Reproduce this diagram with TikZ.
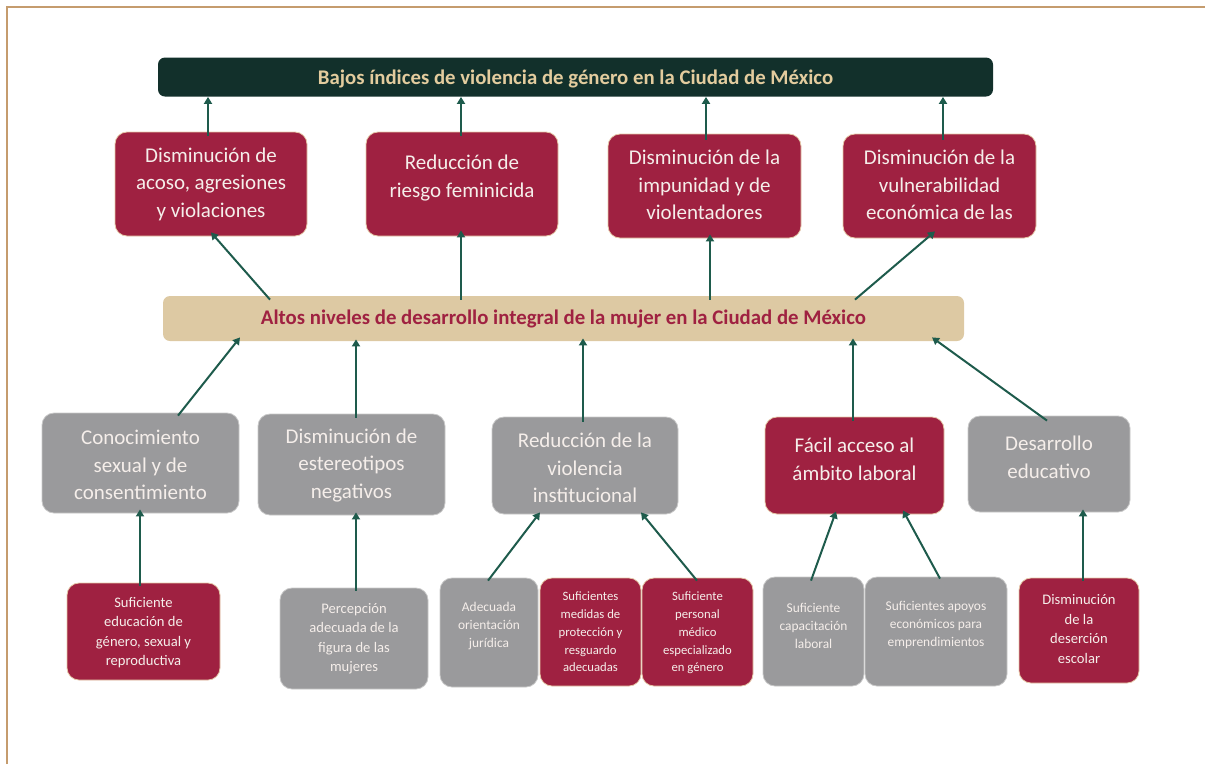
\documentclass[tikz,border=0pt]{standalone}
\usepackage{fontspec}
\setmainfont{Carlito}
\usetikzlibrary{arrows.meta,calc}
\definecolor{crim}{HTML}{9F2141}
\definecolor{grayb}{HTML}{9A9A9C}
\definecolor{dgreen}{HTML}{12302B}
\definecolor{tanbar}{HTML}{DDC9A3}
\definecolor{tantext}{HTML}{E3CC9E}
\definecolor{arr}{HTML}{1E5B4C}
\definecolor{frame}{HTML}{C59C6E}
\definecolor{crimedge}{HTML}{E5C9A8}
\definecolor{grayedge}{HTML}{C8C8C8}
\definecolor{offwhite}{HTML}{F5EEEA}
\tikzset{
  boxbase/.style={rounded corners=12pt, inner sep=0pt, line width=0.8pt},
  redbox/.style={boxbase, fill=crim, draw=crimedge},
  graybox/.style={boxbase, fill=grayb, draw=grayedge},
  txt/.style={inner sep=0pt, align=center, text=offwhite},
  bigtxt/.style={txt, font=\fontsize{21}{27.5}\selectfont},
  smalltxt/.style={txt, font=\fontsize{13.4}{18}\selectfont},
  tinytxt/.style={txt, font=\fontsize{12.7}{17.8}\selectfont},
  midtxt/.style={txt, font=\fontsize{14.6}{19.5}\selectfont},
  uparr/.style={draw=arr, line width=2pt, -{Triangle[width=8pt,length=7pt]}},
}
\begin{document}
\begin{tikzpicture}[x=1pt,y=-1pt]
\useasboundingbox (0,0) rectangle (1205,764);
% frame
\draw[frame, line width=1.5pt] (7,764) -- (7,7) -- (1205,7);
% top bar
\node[boxbase, fill=dgreen, draw=none, rounded corners=7pt, minimum width=835pt, minimum height=39pt] (top) at (575.5,77) {};
\node[txt, text=tantext, font=\fontsize{20.8}{22}\selectfont\bfseries] (topt) at ([yshift=-2pt]top.center) {Bajos índices de violencia de género en la Ciudad de México};
% row 2
\node[redbox,minimum width=192pt,minimum height=104pt] (b1) at (211,184) {};
\node[bigtxt] (b1t) at (b1.center) {Disminución de\\acoso, agresiones\\y violaciones};
\node[redbox,minimum width=192pt,minimum height=104pt] (b2) at (462,184) {};
\node[bigtxt] (b2t) at ([yshift=6pt]b2.center) {Reducción de\\riesgo feminicida};
\node[redbox,minimum width=193pt,minimum height=104pt] (b3) at (704.5,186) {};
\node[bigtxt] (b3t) at ([yshift=1pt]b3.center) {Disminución de la\\impunidad y de\\violentadores};
\node[redbox,minimum width=193pt,minimum height=104pt] (b4) at (939.5,186) {};
\node[bigtxt] (b4t) at ([yshift=1pt]b4.center) {Disminución de la\\vulnerabilidad\\económica de las};
% mid bar
\node[boxbase, fill=tanbar, draw=none, rounded corners=7pt, minimum width=801pt, minimum height=45pt] (mid) at (563.5,318.5) {};
\node[txt, text=crim, font=\fontsize{20.8}{22}\selectfont\bfseries] (midt) at (mid.center) {Altos niveles de desarrollo integral de la mujer en la Ciudad de México};
% row 3
\node[graybox,minimum width=197pt,minimum height=100pt] (c1) at (140.5,463) {};
\node[bigtxt] (c1t) at ([yshift=-2pt]c1.center) {Conocimiento\\sexual y de\\consentimiento};
\node[graybox,minimum width=187pt,minimum height=101pt] (c2) at (351.5,464.5) {};
\node[bigtxt] (c2t) at ([yshift=-1pt]c2.center) {Disminución de\\estereotipos\\negativos};
\node[graybox,minimum width=186pt,minimum height=97pt] (c3) at (585,465.5) {};
\node[bigtxt] (c3t) at ([yshift=-2.5pt]c3.center) {Reducción de la\\violencia\\institucional};
\node[redbox,minimum width=179pt,minimum height=97pt] (c4) at (854.5,465.5) {};
\node[bigtxt] (c4t) at ([yshift=6pt]c4.center) {Fácil acceso al\\ámbito laboral};
\node[graybox,minimum width=162pt,minimum height=96pt] (c5) at (1049,464) {};
\node[bigtxt] (c5t) at ([yshift=6.5pt]c5.center) {Desarrollo\\educativo};
% row 4
\node[redbox,minimum width=153pt,minimum height=97pt] (d1) at (143.5,631.5) {};
\node[midtxt] (d1t) at ([yshift=-1pt]d1.center) {Suficiente\\educación de\\género, sexual y\\reproductiva};
\node[graybox,minimum width=148pt,minimum height=101pt] (d2) at (354,638.5) {};
\node[midtxt] (d2t) at (d2.center) {Percepción\\adecuada de la\\figura de las\\mujeres};
\node[graybox,minimum width=98pt,minimum height=109pt] (d3) at (489,632.5) {};
\node[smalltxt] (d3t) at ([yshift=6.5pt]d3.center) {Adecuada\\orientación\\jurídica};
\node[redbox,minimum width=101pt,minimum height=108pt] (d4) at (590.5,632) {};
\node[tinytxt] (d4t) at (d4.center) {Suficientes\\medidas de\\protección y\\resguardo\\adecuadas};
\node[redbox,minimum width=111pt,minimum height=108pt] (d5) at (697.5,632) {};
\node[tinytxt] (d5t) at ([yshift=-1pt]d5.center) {Suficiente\\personal\\médico\\especializado\\en género};
\node[graybox,minimum width=101pt,minimum height=109pt] (d6) at (813.5,631.5) {};
\node[smalltxt] (d6t) at ([yshift=6pt]d6.center) {Suficiente\\capacitación\\laboral};
\node[graybox,minimum width=142pt,minimum height=109pt] (d7) at (936,631.5) {};
\node[smalltxt] (d7t) at ([yshift=6.5pt]d7.center) {Suficientes apoyos\\económicos para\\emprendimientos};
\node[redbox,minimum width=120pt,minimum height=105pt] (d8) at (1079,630.5) {};
\node[midtxt] (d8t) at ([yshift=1.5pt]d8.center) {Disminución\\de la\\deserción\\escolar};
% arrows row 2 -> top
\draw[uparr] ([xshift=-3pt,yshift=-4pt]b1.north) -- ([xshift=-3pt]b1.north |- top.south);
\draw[uparr] ([xshift=-1pt,yshift=-4pt]b2.north) -- ([xshift=-1pt]b2.north |- top.south);
\draw[uparr] ([xshift=1.5pt,yshift=-6pt]b3.north) -- ([xshift=1.5pt]b3.north |- top.south);
\draw[uparr] ([xshift=3.5pt,yshift=-6pt]b4.north) -- ([xshift=3.5pt]b4.north |- top.south);
% arrows mid -> row 2
\draw[uparr] ([xshift=-293.5pt,yshift=-4pt]mid.north) -- ([yshift=4pt]b1.south);
\draw[uparr] ([xshift=-102.5pt,yshift=-4pt]mid.north) -- ([xshift=-1pt,yshift=6pt]b2.south);
\draw[uparr] ([xshift=146.5pt,yshift=-4pt]mid.north) -- ([xshift=5.5pt,yshift=4pt]b3.south);
\draw[uparr] ([xshift=291.5pt,yshift=-4pt]mid.north) -- ([xshift=-4.5pt,yshift=7pt]b4.south);
% arrows row 3 -> mid
\draw[uparr] ([xshift=37.5pt,yshift=-3pt]c1.north) -- ([xshift=-323.5pt,yshift=4pt]mid.south);
\draw[uparr] ([xshift=4.5pt,yshift=-4pt]c2.north) -- ([xshift=-207.5pt,yshift=2pt]mid.south);
\draw[uparr] ([xshift=-2pt,yshift=-5pt]c3.north) -- ([xshift=19.5pt,yshift=3pt]mid.south);
\draw[uparr] ([xshift=-1.5pt,yshift=-4pt]c4.north) -- ([xshift=289.5pt,yshift=3pt]mid.south);
\draw[uparr] ([xshift=-2pt,yshift=-5pt]c5.north) -- ([xshift=368.5pt,yshift=4pt]mid.south);
% arrows row 4 -> row 3
\draw[uparr] ([xshift=-3.5pt,yshift=-3pt]d1.north) -- ([xshift=-0.5pt,yshift=4pt]c1.south);
\draw[uparr] ([xshift=2pt,yshift=-3pt]d2.north) -- ([xshift=4.5pt,yshift=3pt]c2.south);
\draw[uparr] ([xshift=-1pt,yshift=-3pt]d3.north) -- ([xshift=-45pt,yshift=2pt]c3.south);
\draw[uparr] ([xshift=-0.5pt,yshift=-3pt]d5.north) -- ([xshift=56pt,yshift=2pt]c3.south);
\draw[uparr] ([xshift=-2.5pt,yshift=-4pt]d6.north) -- ([xshift=-18.5pt,yshift=3pt]c4.south);
\draw[uparr] ([xshift=4pt,yshift=-2pt]d7.north) -- ([xshift=48.5pt,yshift=4pt]c4.south);
\draw[uparr] ([xshift=4pt,yshift=-3pt]d8.north) -- ([xshift=34pt,yshift=3pt]c5.south);
\end{tikzpicture}
\end{document}
